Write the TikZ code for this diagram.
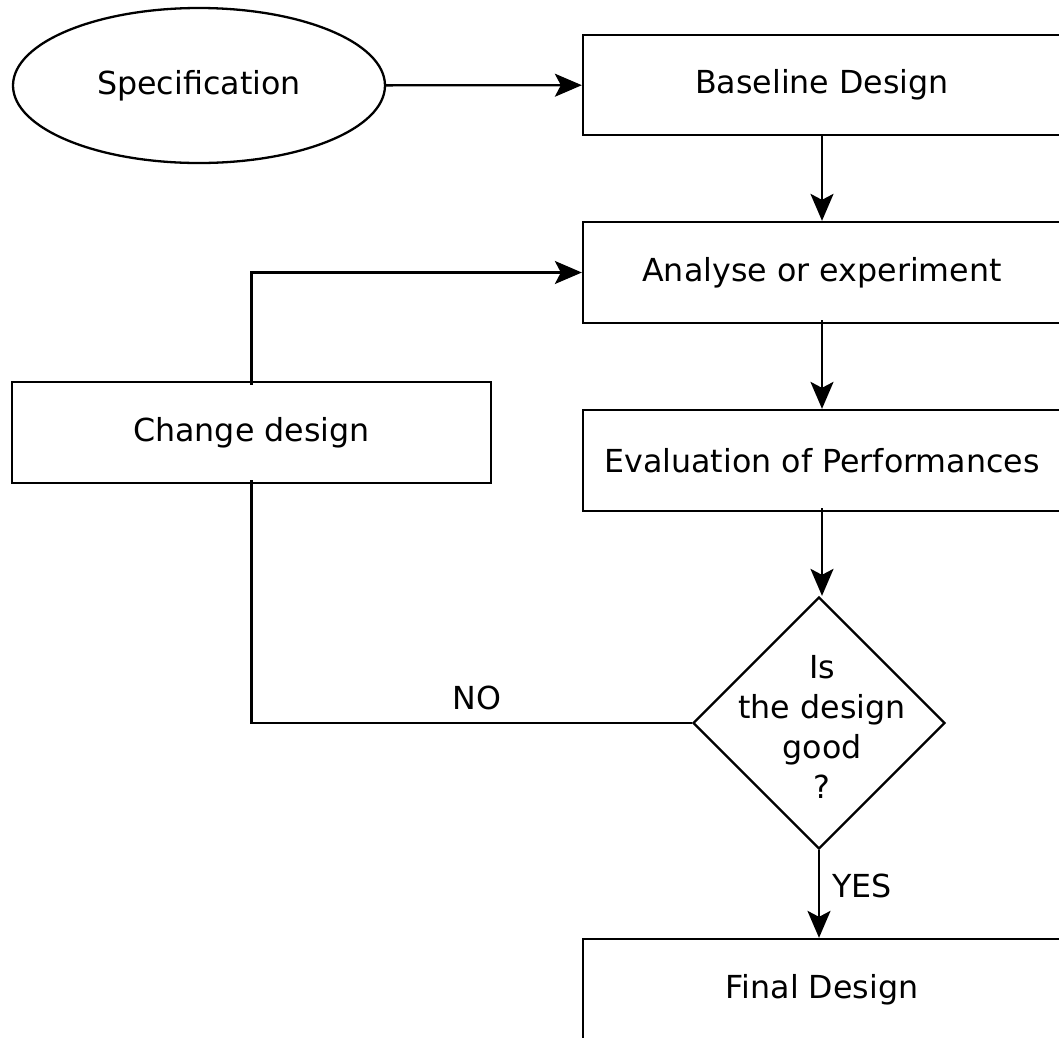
\documentclass[tikz,border=0pt]{standalone}
\usepackage{fontspec}
\setmainfont{DejaVu Sans}
\usetikzlibrary{shapes.geometric,arrows.meta}
\begin{document}
\begin{tikzpicture}[x=1pt,y=-1pt,
  line width=2.3pt,
  txt/.style={font=\fontsize{31.7pt}{40pt}\selectfont},
  stepbox/.style={draw,rectangle,inner sep=0pt,txt,minimum width=478pt,minimum height=100pt},
  flow/.style={-{Stealth[length=27pt,width=23pt,inset=6pt]}},
]
\useasboundingbox (0,0) rectangle (1059,1037);
\clip (0,0) rectangle (1059,1037);

% start terminal
\node[draw,ellipse,inner sep=0pt,minimum width=372pt,minimum height=155pt,txt]
  (spec) at (199,85.5) {Specification};

% process steps
\node[stepbox] (base)   at (822,85)    {Baseline Design};
\node[stepbox,minimum height=101pt] (analyse) at (822,272.5) {Analyse or experiment};
\node[stepbox,minimum height=101pt] (eval)    at (822,460.5) {Evaluation of Performances};
\node[stepbox,minimum width=479pt,minimum height=101pt] (change) at (251.5,432.5) {Change design};
\node[stepbox,minimum height=102pt] (final)   at (822,990)   {Final Design};

% decision
\node[draw,diamond,inner sep=0pt,minimum width=252pt,minimum height=252pt] (dia) at (819,723) {};
\node[txt,align=center] (dtext) at (822,727) {Is\\the design\\good\\?};

% branch labels
\node[txt] (no)  at (477,698) {NO};
\node[txt] (yes) at (862,886) {YES};

% connectors
\draw[flow] (spec) -- (base);
\draw[flow] (base) -- (analyse);
\draw[flow] ([yshift=4pt]analyse.south) -- (eval);
\draw[flow] ([yshift=4pt]eval.south) -- (eval.south |- dia.north);
\draw (dia.west) -| ([yshift=4pt]change.south);
\draw[flow] ([yshift=-4pt]change.north) |- (analyse.west);
\draw[flow] (dia.south) -- (dia.south |- final.north);
\end{tikzpicture}
\end{document}
